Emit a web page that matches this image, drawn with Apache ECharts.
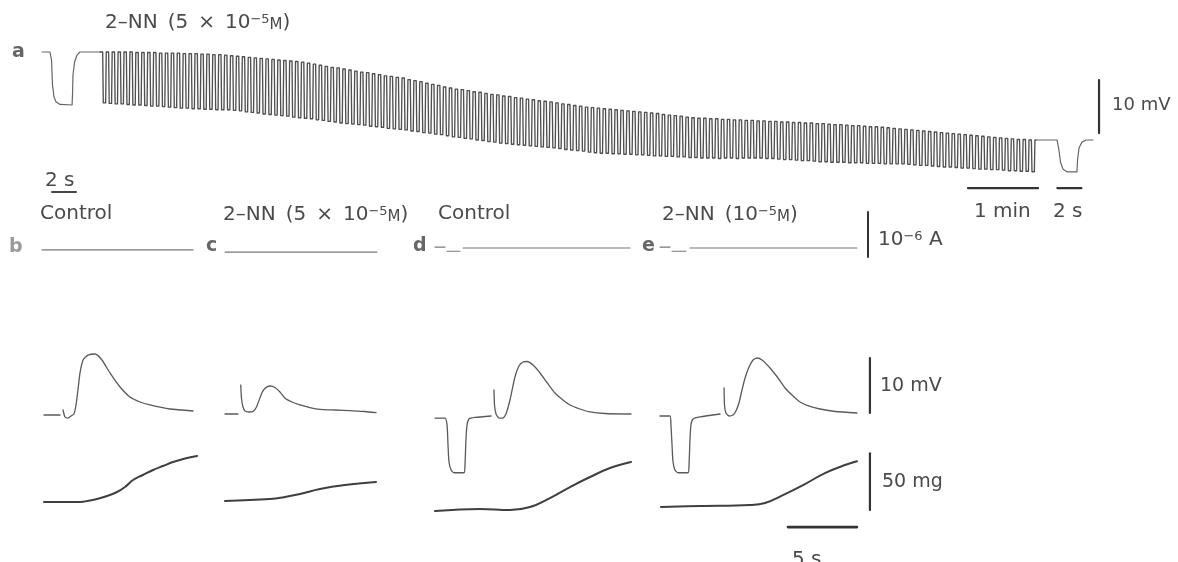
<!DOCTYPE html>
<html>
<head>
<meta charset="utf-8">
<script src="https://cdn.jsdelivr.net/npm/echarts@6/dist/echarts.min.js"></script>
<style>
  html, body { margin: 0; padding: 0; background: #fff; }
  #chart { width: 1178px; height: 562px; }
</style>
</head>
<body>
<div id="chart"></div>
<script>
// ---- panel a : membrane potential (mV from rest) vs time (s) ----
// fast sweep before the drug
const aPre = [[0.17,0],[0.83,0],[0.96,-1.5],[1.04,-6.2],[1.17,-8.5],[1.33,-9.4],[1.67,-9.9],
  [2.67,-10],[2.71,-8.1],[2.75,-4.3],[2.88,-1.9],[3.08,-0.6],[3.33,0],[5,0]];
// slow sweep: one peak and one trough per oscillation
const aStart = 1.3;
const aPeriod = 5.07;
const aPeak = [0,0,0,0,0,0,-0.1,-0.1,-0.1,-0.1,-0.2,-0.2,-0.2,
  -0.2,-0.3,-0.3,-0.3,-0.4,-0.4,-0.5,-0.5,
  -0.6,-0.7,-0.8,-0.9,-1.0,-1.1,-1.2,-1.3,-1.4,-1.5,-1.6,-1.7,-1.8,
  -1.9,-2.1,-2.3,-2.5,-2.7,-2.9,-3.0,-3.2,
  -3.4,-3.6,-3.8,-3.9,-4.1,-4.3,-4.5,-4.6,-4.8,
  -4.9,-5.2,-5.4,-5.6,-5.9,-6.1,-6.3,-6.6,
  -6.8,-7.0,-7.1,-7.3,-7.5,-7.6,-7.8,-8.0,
  -8.1,-8.3,-8.4,-8.6,-8.7,-8.9,-9.0,-9.2,-9.3,
  -9.4,-9.6,-9.8,-9.9,-10.1,-10.2,-10.4,-10.5,
  -10.6,-10.7,-10.8,-10.9,-11.0,-11.1,-11.2,-11.3,-11.4,
  -11.5,-11.6,-11.8,-11.9,-12.0,-12.1,-12.3,-12.4,
  -12.5,-12.5,-12.6,-12.6,-12.7,-12.7,-12.8,-12.8,-12.9,-12.9,
  -13.0,-13.0,-13.1,-13.1,-13.2,-13.2,-13.3,-13.3,-13.4,-13.4,-13.5,-13.5,
  -13.6,-13.7,-13.7,-13.8,-13.9,-13.9,-14.0,-14.1,-14.1,-14.2,-14.3,-14.4,
  -14.5,-14.6,-14.7,-14.8,-14.9,-15.0,-15.1,-15.2,-15.3,-15.4,
  -15.5,-15.6,-15.7,-15.8,-15.9,-16.0,-16.1,-16.2,-16.3,-16.4,-16.5,-16.5,-16.6];
const aTrough = [-9.6,-9.7,-9.8,-9.8,-9.9,-10.0,-10.0,-10.1,-10.2,-10.2,-10.3,-10.4,-10.5,
  -10.6,-10.6,-10.7,-10.7,-10.8,-10.8,-10.9,-10.9,
  -10.9,-11.0,-11.1,-11.3,-11.4,-11.5,-11.7,-11.8,-11.9,-12.0,-12.1,-12.3,-12.4,
  -12.5,-12.6,-12.8,-12.9,-13.1,-13.2,-13.4,-13.5,
  -13.6,-13.7,-13.8,-14.0,-14.1,-14.2,-14.4,-14.5,-14.6,
  -14.7,-14.9,-15.0,-15.2,-15.3,-15.5,-15.6,-15.8,
  -16.0,-16.1,-16.3,-16.4,-16.6,-16.7,-16.9,-17.0,
  -17.2,-17.3,-17.4,-17.5,-17.6,-17.7,-17.8,-17.9,-18.0,
  -18.1,-18.2,-18.4,-18.5,-18.6,-18.7,-18.9,-19.0,
  -19.1,-19.1,-19.2,-19.2,-19.3,-19.3,-19.4,-19.4,-19.5,
  -19.6,-19.6,-19.7,-19.7,-19.8,-19.8,-19.9,-19.9,
  -20.0,-20.0,-20.0,-20.1,-20.0,-20.0,-20.1,-20.0,-20.0,-20.0,
  -20.0,-20.1,-20.1,-20.2,-20.3,-20.3,-20.4,-20.5,-20.5,-20.6,-20.7,-20.7,
  -20.8,-20.8,-20.8,-20.9,-20.9,-20.9,-21.0,-21.0,-21.0,-21.1,-21.1,-21.1,
  -21.1,-21.2,-21.3,-21.4,-21.4,-21.5,-21.6,-21.7,-21.7,-21.8,
  -21.9,-21.9,-22.0,-22.1,-22.1,-22.2,-22.2,-22.3,-22.4,-22.4,-22.5,-22.5,-22.6];
// fast sweep after the drug
const aPost = [[0,-16.6],[1.67,-16.6],[1.83,-18.5],[1.96,-20.8],[2.17,-22.1],[2.5,-22.6],
  [3.33,-22.6],[3.38,-20.4],[3.5,-18.1],[3.75,-17.0],[4.08,-16.6],[4.67,-16.6]];

// ---- panels b-e : time (s) ; current (uA), potential (mV), tension (mg) ----
// null = pen lift
const bCur = [[0.15,0.03],[11.1,0.03]];
const bPot = [[0.29,0],[1.45,0],null,[1.67,0.91],[1.81,-0.36],[2.03,-0.55],[2.25,-0.18],
  [2.46,0.18],[2.61,1.82],[2.75,4.55],[2.9,7.64],[3.12,10.0],[3.48,10.9],[3.99,11.09],
  [4.49,10.0],[5.07,7.64],[5.8,5.09],[6.52,3.27],[7.25,2.36],[7.97,1.82],[9.42,1.09],[11.09,0.73]];
const bTen = [[0.29,-0.5],[2.9,-0.5],[3.62,0.8],[4.13,2.1],[4.86,4.8],[5.58,8.3],[6.16,12.7],
  [6.74,18.9],[7.46,23.3],[8.19,27.7],[8.91,31.2],[9.64,34.7],[10.51,37.8],[11.38,40.0]];

const cCur = [[0.22,-0.02],[11.23,-0.02]];
const cPot = [[0.22,0.18],[1.16,0.18],null,[1.36,5.45],[1.41,3.09],[1.52,1.45],[1.67,0.73],
  [1.96,0.55],[2.25,0.64],[2.51,1.51],[2.88,3.95],[3.12,4.85],[3.48,5.27],[3.84,5.0],[4.2,4.18],
  [4.57,3.04],[5.07,2.36],[5.65,1.82],[6.38,1.36],[7.1,1.04],[8.19,0.91],[9.28,0.78],[10.36,0.64],[11.16,0.42]];
const cTen = [[0.22,0.35],[3.48,2.1],[4.57,3.9],[5.65,6.5],[7.1,10.9],[8.91,14.4],[11.16,17.1]];

const dCur = [[0.22,0.09],[0.94,0.09],null,[1.09,0],[2.03,0],null,[2.25,0.07],[14.35,0.07]];
const dPot = [[0.22,-0.55],[0.94,-0.55],[1.09,-1.8],[1.16,-5.45],[1.23,-8.5],[1.38,-10.0],[1.59,-10.5],
  [2.32,-10.5],[2.39,-9.1],[2.46,-4.55],[2.54,-1.8],[2.68,-0.73],[3.12,-0.45],[4.28,-0.18],null,
  [4.49,4.55],[4.53,1.82],[4.64,0.18],[4.86,-0.55],[5.14,-0.55],[5.36,0.18],[5.65,2.73],[6.01,6.91],
  [6.3,8.91],[6.59,9.64],[6.88,9.73],[7.32,9.09],[7.83,7.64],[8.41,5.64],[8.91,4.0],[9.49,2.73],
  [10.0,1.82],[10.72,1.09],[11.45,0.55],[12.54,0.27],[14.42,0.18]];
const dTen = [[0.22,-8.5],[3.48,-6.7],[5.65,-7.6],[7.1,-4.9],[8.55,3.0],[10.0,12.7],[11.45,21.5],
  [12.9,29.4],[14.42,34.7]];

const eCur = [[0.22,0.09],[0.94,0.09],null,[1.09,0],[2.1,0],null,[2.39,0.07],[14.49,0.07]];
const ePot = [[0.22,-0.18],[0.94,-0.18],[1.01,-1.8],[1.09,-5.45],[1.16,-8.5],[1.3,-10.0],[1.52,-10.5],
  [2.25,-10.5],[2.32,-9.1],[2.39,-4.55],[2.46,-1.8],[2.61,-0.73],[3.12,-0.36],[4.57,0.18],null,
  [4.86,4.91],[4.89,1.82],[5.0,0.36],[5.22,-0.18],[5.51,0],[5.72,0.73],[5.94,2.18],[6.16,4.55],
  [6.38,6.73],[6.67,8.73],[6.96,10.0],[7.25,10.36],[7.61,10.0],[8.19,8.55],[8.77,6.73],[9.28,4.91],
  [9.86,3.45],[10.36,2.36],[11.09,1.55],[11.81,1.09],[12.9,0.64],[14.49,0.36]];
const eTen = [[0.29,-4.9],[3.12,-4.1],[6.74,-3.2],[7.83,-1.4],[9.28,6.5],[10.72,15.3],[12.17,25.0],
  [13.62,32.1],[14.49,35.4]];

// calibration sizes
const barMv = 10, barMg = 50, barUa = 1, barFastS = 2, barSlowS = 60, barPanelS = 5;

const INK = '#4a4a4a';
const FONT = 'DejaVu Sans';
const SP = '\u2002';

var chart = echarts.init(document.getElementById('chart'));

var grids = [], xAxes = [], yAxes = [], series = [];

function addGrid(g, xmax, ys) {
  var gi = grids.length;
  grids.push(Object.assign({ outerBoundsMode: 'none' }, g));
  xAxes.push({ type: 'value', gridIndex: gi, min: 0, max: xmax, show: false });
  var idx = ys.map(function (r) {
    yAxes.push({ type: 'value', gridIndex: gi, min: r[0], max: r[1], show: false });
    return yAxes.length - 1;
  });
  return { x: xAxes.length - 1, y: idx };
}

function trace(ax, yi, data, width, color, smooth) {
  var part = [];
  function flush() {
    if (part.length > 1) {
      series.push({
        type: 'line', xAxisIndex: ax.x, yAxisIndex: ax.y[yi], data: part,
        symbol: 'none', silent: true, clip: false, animation: false,
        smooth: smooth || false,
        lineStyle: { width: width, color: color || INK, cap: 'round', join: 'round' }
      });
    }
    part = [];
  }
  data.forEach(function (p) { if (p === null) flush(); else part.push(p); });
  flush();
}

// panel a: three sweeps sharing one mV scale (5.3 px per mV)
var aY = [[-30, 2]];
var aGridTop = 41.4, aGridH = 169.6;
var gPre = addGrid({ left: 40, top: aGridTop, width: 60, height: aGridH }, 5, aY);
var gOsc = addGrid({ left: 100, top: aGridTop, width: 939.2, height: aGridH }, 805, aY);
var gPost = addGrid({ left: 1037, top: aGridTop, width: 72, height: aGridH }, 6, aY);

// each oscillation: fall to its trough, stay, climb back to the next plateau
var aOsc = [[0, 0]];
aPeak.forEach(function (p, i) {
  var s = aStart + i * aPeriod;
  aOsc.push([s + 0.2 * aPeriod, p]);
  aOsc.push([s + 0.3 * aPeriod, aTrough[i]]);
  aOsc.push([s + 0.7 * aPeriod, aTrough[i]]);
  aOsc.push([s + 0.8 * aPeriod, i + 1 < aPeak.length ? aPeak[i + 1] : p]);
});
aOsc.push([aStart + aPeak.length * aPeriod, aPeak[aPeak.length - 1]]);

trace(gPre, 0, aPre, 1.2, '#666');
trace(gOsc, 0, aOsc, 1.35, '#505050');
trace(gPost, 0, aPost, 1.2, '#666');

// panel a calibration
trace(gPost, 0, [[5.17, -5.3], [5.17, -5.3 - barMv]], 2.2, '#333');
trace(gPre, 0, [[1.0, -26.4], [1.0 + barFastS, -26.4]], 2, '#444');
trace(gOsc, 0, [[744, -25.7], [744 + barSlowS, -25.7]], 2.2, '#333');
trace(gPost, 0, [[1.7, -25.7], [1.7 + barFastS, -25.7]], 2.2, '#333');

// panels b-e: 13.8 px per s, potential / tension / current scales
var pY = [[-25, 40], [-45, 270], [-6.7, 1.25]];
var pGrid = { top: 195, width: 220.8, height: 357.5 };
var panels = [
  [40, bCur, bPot, bTen],
  [222, cCur, cPot, cTen],
  [432, dCur, dPot, dTen],
  [657, eCur, ePot, eTen]
];
var lastAx;
panels.forEach(function (p) {
  var ax = addGrid(Object.assign({ left: p[0] }, pGrid), 16, pY);
  trace(ax, 2, p[1], 1.1, '#777');
  trace(ax, 0, p[2], 1.3, '#5a5a5a', 0.2);
  trace(ax, 1, p[3], 2, '#3f3f3f', 0.4);
  lastAx = ax;
});

// panels b-e calibration (drawn in panel e coordinates)
trace(lastAx, 2, [[15.29, 0.87], [15.29, 0.87 - barUa]], 2, '#333');
trace(lastAx, 0, [[15.43, 0.36], [15.43, 0.36 + barMv]], 2.2, '#333');
trace(lastAx, 1, [[15.43, -7.6], [15.43, -7.6 + barMg]], 2.2, '#333');
trace(lastAx, 1, [[9.49, -22.6], [9.49 + barPanelS, -22.6]], 2.6, '#333');

function rich(size) {
  return {
    t: { fontSize: size, fontFamily: FONT, fill: INK, verticalAlign: 'bottom' },
    s: { fontSize: 13, fontFamily: FONT, fill: INK, verticalAlign: 'top' },
    m: { fontSize: 15, fontFamily: FONT, fill: INK, verticalAlign: 'bottom' }
  };
}
function txt(x, y, s, opt) {
  opt = opt || {};
  var style = {
    text: s, fill: opt.fill || INK, fontSize: opt.size || 20, fontFamily: FONT,
    fontWeight: opt.bold ? 'bold' : 'normal',
    align: opt.align || 'left', verticalAlign: 'middle'
  };
  if (opt.rich) style.rich = rich(opt.size || 20);
  return { type: 'text', x: x, y: y, silent: true, style: style };
}

var graphic = [
  txt(105, 23, '{t|2–NN' + SP + '(5' + SP + '×' + SP + '10}{s|−5}{m|M}{t|)}', { rich: true }),
  txt(12, 52, 'a', { bold: true, fill: '#666', size: 19 }),
  txt(45, 181, '2 s'),
  txt(1112, 105, '10 mV', { size: 18 }),
  txt(974, 212, '1 min'),
  txt(1053, 212, '2 s'),
  txt(40, 214, 'Control'),
  txt(223, 215, '{t|2–NN' + SP + '(5' + SP + '×' + SP + '10}{s|−5}{m|M}{t|)}', { rich: true }),
  txt(438, 214, 'Control'),
  txt(662, 215, '{t|2–NN' + SP + '(10}{s|−5}{m|M}{t|)}', { rich: true }),
  txt(9, 247, 'b', { bold: true, fill: '#9a9a9a', size: 19 }),
  txt(206, 246, 'c', { bold: true, fill: '#666', size: 19 }),
  txt(413, 246, 'd', { bold: true, fill: '#666', size: 19 }),
  txt(642, 246, 'e', { bold: true, fill: '#666', size: 19 }),
  txt(878, 240, '{t|10}{s|−6}{t| A}', { rich: true }),
  txt(880, 386, '10 mV', { size: 19 }),
  txt(882, 482, '50 mg', { size: 19 }),
  txt(792, 560, '5 s')
];

chart.setOption({
  backgroundColor: '#fff',
  animation: false,
  grid: grids,
  xAxis: xAxes,
  yAxis: yAxes,
  series: series,
  graphic: graphic
});
</script>
</body>
</html>
